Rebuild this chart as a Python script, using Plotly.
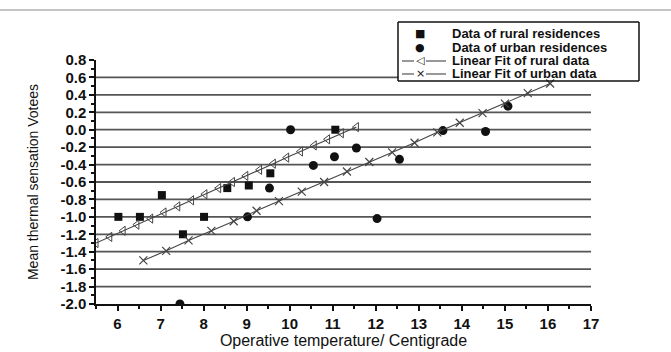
import plotly.graph_objects as go

# Data
rural_x = [6.02, 6.52, 7.03, 7.52, 8.01, 8.55, 9.05, 9.55, 11.06]
rural_y = [-1.00, -1.00, -0.75, -1.20, -1.00, -0.67, -0.64, -0.50, 0.00]

urban_x = [7.45, 9.02, 9.53, 10.02, 10.55, 11.04, 11.55, 12.03, 12.55, 13.56, 14.55, 15.07]
urban_y = [-2.00, -1.00, -0.67, 0.00, -0.41, -0.31, -0.21, -1.02, -0.34, -0.01, -0.02, 0.27]

rural_fit_x = [5.50, 5.82, 6.13, 6.45, 6.77, 7.08, 7.40, 7.72, 8.03, 8.35,
               8.67, 8.98, 9.30, 9.62, 9.93, 10.25, 10.57, 10.88, 11.20, 11.55]
rural_fit_y = [-1.30, -1.23, -1.16, -1.09, -1.02, -0.95, -0.88, -0.81, -0.74, -0.67,
               -0.60, -0.53, -0.46, -0.39, -0.32, -0.25, -0.18, -0.11, -0.04, 0.03]

urban_fit_x = [6.60, 7.13, 7.65, 8.18, 8.70, 9.23, 9.75, 10.28, 10.80, 11.33,
               11.85, 12.38, 12.90, 13.43, 13.95, 14.48, 15.00, 15.53, 16.05]
urban_fit_y = [-1.50, -1.39, -1.27, -1.16, -1.05, -0.93, -0.82, -0.71, -0.60, -0.48,
               -0.37, -0.26, -0.15, -0.03, 0.08, 0.19, 0.30, 0.42, 0.53]

x_ticks = [6, 7, 8, 9, 10, 11, 12, 13, 14, 15, 16, 17]
y_ticks = [0.8, 0.6, 0.4, 0.2, 0.0, -0.2, -0.4, -0.6, -0.8, -1.0,
           -1.2, -1.4, -1.6, -1.8, -2.0]
grid_levels = [0.6, 0.4, 0.2, 0.0, -0.2, -0.4, -0.6, -0.8, -1.0,
               -1.2, -1.4, -1.6, -1.8]

legend_labels = ["Data of rural residences", "Data of urban residences",
                 "Linear Fit of rural data", "Linear Fit of urban data"]
legend_glyphs = ["■", "●", "◁", "×"]

FONT = "Liberation Sans, Arial, sans-serif"
INK = "#111111"
LINE = "#444444"

PL, PW, PB, PH = 96, 495, 304, 244  # plot-area pixel geometry


def px2x(px):
    return (px - PL) / PW


def py2y(py):
    return (PB - py) / PH


# legend box edges (pixels)
BX0, BX1, BY0, BY1 = 398, 639, 22, 81
box_left_data = 5.5 + (BX0 - PL) / PW * (17 - 5.5)

fig = go.Figure()

# horizontal grid lines (the top one stops at the legend box)
for lv in grid_levels:
    x_end = box_left_data if lv == grid_levels[0] else 17
    fig.add_shape(type="line", xref="x", yref="y", x0=5.5, x1=x_end, y0=lv, y1=lv,
                  line=dict(color="#555555", width=1.8), layer="below")

fig.add_trace(go.Scatter(
    x=rural_x, y=rural_y, mode="markers", name=legend_labels[0],
    marker=dict(symbol="square", size=8, color=INK)))
fig.add_trace(go.Scatter(
    x=urban_x, y=urban_y, mode="markers", name=legend_labels[1],
    marker=dict(symbol="circle", size=9, color=INK)))
fig.add_trace(go.Scatter(
    x=rural_fit_x, y=rural_fit_y, mode="lines+markers", name=legend_labels[2],
    line=dict(color=LINE, width=1.1),
    marker=dict(symbol="triangle-left-open", size=8, color=LINE, line=dict(width=1))))
fig.add_trace(go.Scatter(
    x=urban_fit_x, y=urban_fit_y, mode="lines+markers", name=legend_labels[3],
    line=dict(color=LINE, width=1.1),
    marker=dict(symbol="x-thin-open", size=8, color=LINE, line=dict(width=1.2, color=LINE))))

# page border line at top
fig.add_shape(type="line", xref="paper", yref="paper", x0=-0.2, x1=1.2,
              y0=1.205, y1=1.205, line=dict(color="#b0b0b0", width=1.5))

# legend box border drawn as four lines
for (ax0, ay0, ax1, ay1) in ((BX0, BY0, BX1, BY0), (BX0, BY1, BX1, BY1),
                             (BX0, BY0, BX0, BY1), (BX1, BY0, BX1, BY1)):
    fig.add_shape(type="line", xref="paper", yref="paper",
                  x0=px2x(ax0), x1=px2x(ax1), y0=py2y(ay0), y1=py2y(ay1),
                  line=dict(color=INK, width=1.5))

row_py = [33, 47, 61, 74]
for i, (lab, gl) in enumerate(zip(legend_labels, legend_glyphs)):
    yy = py2y(row_py[i])
    if i >= 2:
        for (sx0, sx1) in ((402, 414), (426, 446)):
            fig.add_shape(type="line", xref="paper", yref="paper",
                          x0=px2x(sx0), x1=px2x(sx1), y0=yy, y1=yy,
                          line=dict(color=LINE, width=1.1))
    fig.add_annotation(xref="paper", yref="paper", x=px2x(420), y=yy,
                       text=gl, showarrow=False, xanchor="center", yanchor="middle",
                       height=13, borderpad=0,
                       font=dict(size=11, family="DejaVu Sans", color=INK))
    fig.add_annotation(xref="paper", yref="paper", x=px2x(451), y=yy,
                       text="<b>" + lab + "</b>", showarrow=False,
                       xanchor="left", yanchor="middle", borderpad=0, height=13,
                       font=dict(size=13, family=FONT, color=INK))

fig.update_layout(
    width=671, height=352,
    margin=dict(l=96, r=80, t=60, b=48),
    paper_bgcolor="white", plot_bgcolor="white",
    font=dict(family=FONT, color=INK, size=13),
    showlegend=False,
    xaxis=dict(range=[5.5, 17], tickvals=x_ticks,
               ticktext=["<b>%d</b>" % t for t in x_ticks], automargin=False,
               showgrid=False, zeroline=False, showline=True, linecolor=INK, linewidth=1.5,
               ticks="outside", ticklen=5, tickwidth=1.5, tickcolor=INK,
               minor=dict(dtick=0.5, ticks="outside", ticklen=3, tickcolor=INK, showgrid=False),
               tickfont=dict(size=15, family=FONT, color=INK),
               title=dict(text="Operative temperature/ Centigrade",
                          font=dict(size=16, family=FONT, color=INK), standoff=3)),
    yaxis=dict(range=[-2.0, 0.8], tickvals=y_ticks, automargin=False,
               ticktext=["<b>%.1f</b>" % t for t in y_ticks],
               showgrid=False, zeroline=False, showline=True, linecolor=INK, linewidth=1.5,
               ticks="outside", ticklen=5, tickwidth=1.5, tickcolor=INK,
               minor=dict(dtick=0.1, ticks="outside", ticklen=3, tickcolor=INK, showgrid=False),
               tickfont=dict(size=15, family=FONT, color=INK),
               title=dict(text="Mean thermal sensation Votees",
                          font=dict(size=14, family="Liberation Sans Narrow, " + FONT, color=INK),
                          standoff=18)),
)

fig.write_html("out.html")
